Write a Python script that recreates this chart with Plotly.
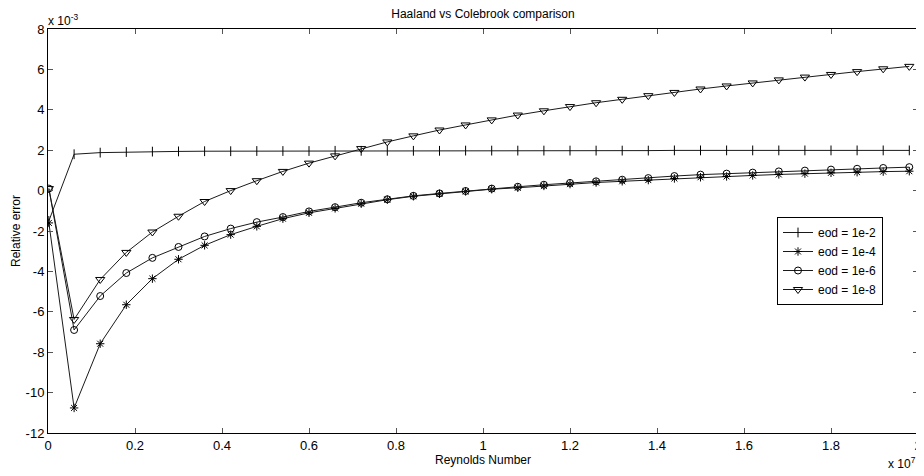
import plotly.graph_objects as go

re_1e7 = [0.002, 0.06, 0.12, 0.18, 0.24, 0.30, 0.36, 0.42, 0.48, 0.54, 0.60, 0.66,
          0.72, 0.78, 0.84, 0.90, 0.96, 1.02, 1.08, 1.14, 1.20, 1.26, 1.32, 1.38,
          1.44, 1.50, 1.56, 1.62, 1.68, 1.74, 1.80, 1.86, 1.92, 1.98]

err_1e2 = [-1.5, 1.80, 1.88, 1.91, 1.93, 1.94, 1.95, 1.95, 1.96, 1.96, 1.96, 1.97,
           1.97, 1.97, 1.97, 1.97, 1.98, 1.98, 1.98, 1.98, 1.98, 1.98, 1.98, 1.98,
           1.99, 1.99, 1.99, 1.99, 1.99, 1.99, 1.99, 1.99, 1.99, 1.99]
err_1e4 = [-1.6, -10.76, -7.58, -5.65, -4.36, -3.40, -2.71, -2.18, -1.77, -1.39,
           -1.10, -0.88, -0.65, -0.45, -0.28, -0.16, -0.04, 0.07, 0.14, 0.23,
           0.32, 0.40, 0.46, 0.52, 0.60, 0.66, 0.70, 0.75, 0.80, 0.84,
           0.88, 0.91, 0.94, 0.96]
err_1e6 = [0.1, -6.9, -5.22, -4.08, -3.33, -2.79, -2.27, -1.88, -1.56, -1.31,
           -1.03, -0.82, -0.60, -0.43, -0.26, -0.14, -0.02, 0.10, 0.19, 0.29,
           0.38, 0.46, 0.54, 0.62, 0.72, 0.79, 0.84, 0.89, 0.95, 0.99,
           1.04, 1.08, 1.12, 1.16]
err_1e8 = [0.1, -6.38, -4.4, -3.06, -2.05, -1.27, -0.54, 0.0, 0.49, 0.95,
           1.36, 1.72, 2.08, 2.41, 2.71, 3.0, 3.25, 3.5, 3.74, 3.95,
           4.16, 4.35, 4.52, 4.7, 4.86, 5.03, 5.18, 5.33, 5.48, 5.62,
           5.75, 5.89, 6.03, 6.15]

series_names = ["eod = 1e-2", "eod = 1e-4", "eod = 1e-6", "eod = 1e-8"]
x_tick_vals = [0, 0.2, 0.4, 0.6, 0.8, 1, 1.2, 1.4, 1.6, 1.8, 2]
x_tick_text = ["0", "0.2", "0.4", "0.6", "0.8", "1", "1.2", "1.4", "1.6", "1.8", "2"]
y_tick_vals = [-12, -10, -8, -6, -4, -2, 0, 2, 4, 6, 8]
y_tick_text = ["-12", "-10", "-8", "-6", "-4", "-2", "0", "2", "4", "6", "8"]

FONT = "Liberation Sans, Arial, sans-serif"

# the page body has an 8px margin, so the figure is placed at (8, 8)
W, H = 916, 468
L, R, T, B = 40, 6, 21, 43
PW, PH = W - L - R, H - T - B

fig = go.Figure()
styles = [
    dict(symbol="line-ns", size=7),
    dict(symbol="asterisk", size=7),
    dict(symbol="circle-open", size=7),
    dict(symbol="triangle-down-open", size=8),
]
for name, ys, st in zip(series_names, [err_1e2, err_1e4, err_1e6, err_1e8], styles):
    fig.add_trace(go.Scatter(
        x=re_1e7, y=ys, name=name, mode="lines+markers",
        line=dict(color="#1a1a1a", width=1),
        marker=dict(symbol=st["symbol"], size=st["size"], color="#000000",
                    line=dict(color="#000000", width=1)),
    ))

axis_common = dict(
    showline=True, linecolor="#000000", linewidth=1, mirror="allticks",
    ticks="inside", ticklen=5, tickcolor="#555555", tickwidth=1,
    showgrid=False, zeroline=False, ticklabeloverflow="allow",
    tickfont=dict(family=FONT, size=13, color="#000000"),
)

fig.update_layout(
    width=W, height=H,
    margin=dict(l=L, r=R, t=T, b=B, autoexpand=False),
    paper_bgcolor="#ffffff", plot_bgcolor="#ffffff",
    title=dict(text="Haaland vs Colebrook comparison", x=0.5, xref="paper",
               xanchor="center", y=1 - 6 / H, yanchor="middle",
               font=dict(family=FONT, size=12, color="#000000")),
    xaxis=dict(range=[0, 2], tickvals=x_tick_vals, ticktext=x_tick_text,
               title=dict(text="Reynolds Number", standoff=2,
                          font=dict(family=FONT, size=12, color="#000000")),
               **axis_common),
    yaxis=dict(range=[-12, 8], tickvals=y_tick_vals, ticktext=y_tick_text,
               title=dict(text="Relative error", standoff=2,
                          font=dict(family=FONT, size=12, color="#000000")),
               **axis_common),
    legend=dict(x=(777 - 48) / PW, y=(433 - 217) / PH, xanchor="left", yanchor="top",
                bordercolor="#000000", borderwidth=1, bgcolor="#ffffff",
                font=dict(family=FONT, size=12, color="#000000"),
                tracegroupgap=0, itemwidth=30),
    showlegend=True,
)

fig.add_annotation(text="x 10<sup>-3</sup>", xref="paper", yref="paper",
                   x=0, y=1, xanchor="left", yanchor="bottom", showarrow=False,
                   xshift=-2, yshift=-1,
                   font=dict(family=FONT, size=12, color="#000000"))
fig.add_annotation(text="x 10<sup>7</sup>", xref="paper", yref="paper",
                   x=1, y=0, xanchor="right", yanchor="top", showarrow=False,
                   yshift=-20,
                   font=dict(family=FONT, size=12, color="#000000"))

fig.write_html("out.html")
